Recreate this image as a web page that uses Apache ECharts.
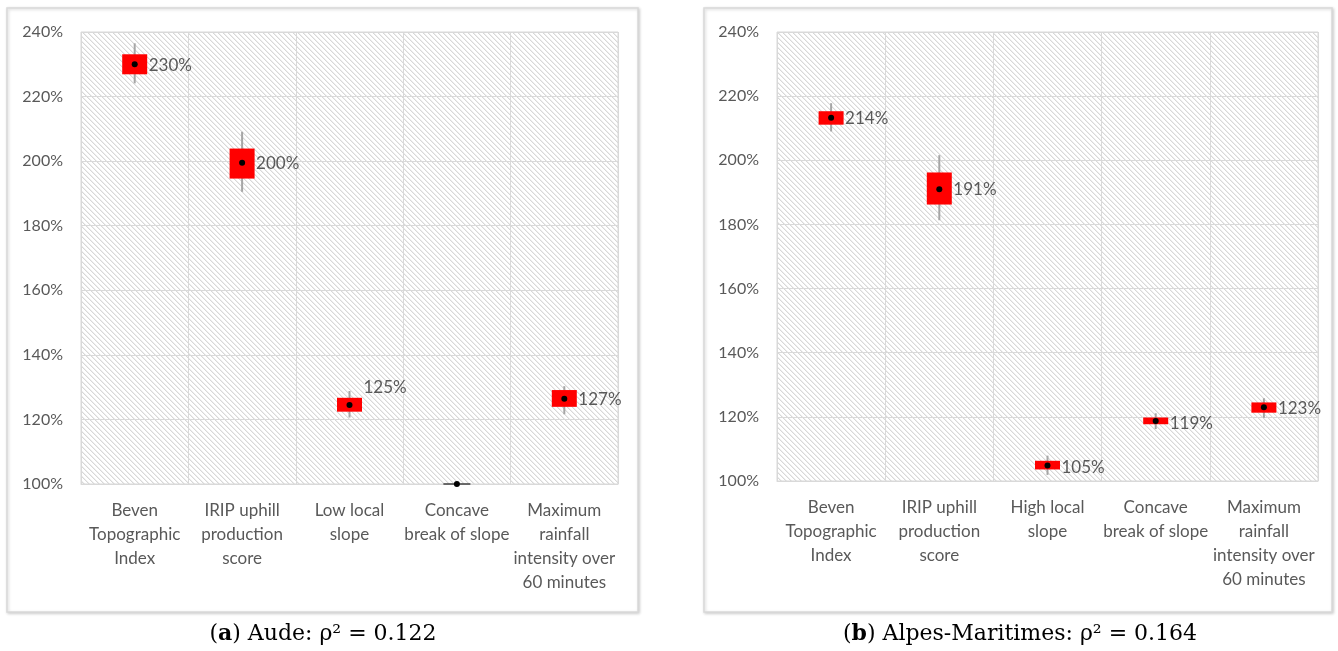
<!DOCTYPE html>
<html>
<head>
<meta charset="utf-8">
<script src="https://cdn.jsdelivr.net/npm/echarts@6/dist/echarts.min.js"></script>
<style>html,body{margin:0;padding:0;background:#fff}#c{width:1338px;height:651px}</style>
</head>
<body>
<div id="c"></div>
<script>
// ---- Data ----
const yTicks = [100, 120, 140, 160, 180, 200, 220, 240];

const categoriesA = ['Beven\nTopographic\nIndex', 'IRIP uphill\nproduction\nscore', 'Low local\nslope', 'Concave\nbreak of slope', 'Maximum\nrainfall\nintensity over\n60 minutes'];
const meanA      = [230.0, 199.5, 124.5, 100.0, 126.4];
const boxLowA    = [226.9, 194.6, 122.4, 100.0, 123.9];
const boxHighA   = [233.1, 203.9, 126.7, 100.0, 129.1];
const whiskLowA  = [224.1, 190.5, 120.6, 100.0, 121.6];
const whiskHighA = [236.5, 209.1, 128.8, 100.0, 130.3];
const labelsA    = ['230%', '200%', '125%', '', '127%'];

const categoriesB = ['Beven\nTopographic\nIndex', 'IRIP uphill\nproduction\nscore', 'High local\nslope', 'Concave\nbreak of slope', 'Maximum\nrainfall\nintensity over\n60 minutes'];
const meanB      = [213.3, 191.0, 104.8, 118.7, 123.0];
const boxLowB    = [211.1, 186.2, 103.6, 117.7, 121.3];
const boxHighB   = [215.3, 196.2, 106.3, 119.8, 124.5];
const whiskLowB  = [209.0, 181.3, 101.9, 116.2, 119.7];
const whiskHighB = [217.8, 201.6, 107.9, 121.1, 125.8];
const labelsB    = ['214%', '191%', '105%', '119%', '123%'];

// label vertical nudges (style only)
const labelDyA = [1, 1, -17, 0, 1];
const labelDyB = [1, 0, 2, 2, 1];

// ---- Hatch pattern ----
function makeHatch() {
  const n = 5;
  const cv = document.createElement('canvas');
  cv.width = n; cv.height = n;
  const ctx = cv.getContext('2d');
  const img = ctx.createImageData(n, n);
  for (let y = 0; y < n; y++) {
    for (let x = 0; x < n; x++) {
      const i = (y * n + x) * 4;
      const d = ((x - y) % n + n) % n;
      const v = d === 0 ? 216 : (d === 1 ? 238 : 255);
      img.data[i] = v; img.data[i + 1] = v; img.data[i + 2] = v; img.data[i + 3] = 255;
    }
  }
  ctx.putImageData(img, 0, 0);
  return { image: cv, repeat: 'repeat' };
}
const hatch = makeHatch();

function buildData(wl, bl, m, bh, wh) {
  return m.map((v, i) => [i, wl[i], bl[i], v, bh[i], wh[i]]);
}

const FONT = 'Lato, "Open Sans", sans-serif';
const TXT = '#595959';

function makeRender(labels, dys) {
  return function (params, api) {
    const i = api.value(0);
    const c = api.coord([i, api.value(3)]);
    const wl = api.coord([i, api.value(1)]);
    const wh = api.coord([i, api.value(5)]);
    const bl = api.coord([i, api.value(2)]);
    const bh = api.coord([i, api.value(4)]);
    const w = 25;
    const children = [];
    children.push({ type: 'line', shape: { x1: c[0], y1: wh[1], x2: c[0], y2: wl[1] }, style: { stroke: '#a6a6a6', lineWidth: 2 } });
    if (Math.abs(bl[1] - bh[1]) < 1) {
      children.push({ type: 'line', shape: { x1: c[0] - 13.5, y1: c[1], x2: c[0] + 13.5, y2: c[1] }, style: { stroke: '#404040', lineWidth: 1.5 } });
    } else {
      children.push({ type: 'rect', shape: { x: c[0] - w / 2, y: bh[1], width: w, height: bl[1] - bh[1] }, style: { fill: '#ff0000' } });
    }
    children.push({ type: 'circle', shape: { cx: c[0], cy: c[1], r: 3 }, style: { fill: '#000' } });
    if (labels[i]) {
      children.push({ type: 'text', style: { text: labels[i], x: c[0] + 14, y: c[1] + dys[i], fill: TXT, fontSize: 17, fontFamily: FONT, align: 'left', verticalAlign: 'middle' } });
    }
    return { type: 'group', children };
  };
}

function xAxis(gi, cats) {
  return {
    type: 'category', gridIndex: gi, data: cats, boundaryGap: true, z: 3,
    axisLine: { show: true, lineStyle: { color: '#d9d9d9', width: 1 } },
    axisTick: { show: false },
    splitLine: { show: true, interval: 0, lineStyle: { color: '#d9d9d9', width: 1 } },
    axisLabel: { color: TXT, fontSize: 17, fontFamily: FONT, lineHeight: 24, margin: 15, interval: 0, align: 'center' }
  };
}
function yAxis(gi) {
  return {
    type: 'value', gridIndex: gi, min: yTicks[0], max: yTicks[yTicks.length - 1], interval: yTicks[1] - yTicks[0], z: 3,
    axisLine: { show: false }, axisTick: { show: false },
    splitLine: { show: true, lineStyle: { color: '#d9d9d9', width: 1 } },
    axisLabel: { color: TXT, fontSize: 16, fontFamily: FONT, margin: 18, formatter: v => v + '%' }
  };
}

const chart = echarts.init(document.getElementById('c'), null, { renderer: 'canvas' });
const SERIF = '"DejaVu Serif", "Liberation Serif", serif';
const captionRich = {
  p: { fontFamily: SERIF, fontSize: 22, fill: '#000' },
  b: { fontFamily: SERIF, fontSize: 22, fontWeight: 'bold', fill: '#000' }
};
chart.setOption({
  backgroundColor: '#fff',
  animation: false,
  grid: [
    { left: 81, right: 720, top: 32, bottom: 167, show: true, backgroundColor: hatch, borderColor: '#d9d9d9', borderWidth: 1 },
    { left: 777, right: 20, top: 32, bottom: 170, show: true, backgroundColor: hatch, borderColor: '#d9d9d9', borderWidth: 1 }
  ],
  xAxis: [xAxis(0, categoriesA), xAxis(1, categoriesB)],
  yAxis: [yAxis(0), yAxis(1)],
  graphic: [
    { type: 'rect', z: -1, shape: { x: 7, y: 8, width: 631, height: 604 }, style: { fill: '#fff', stroke: '#d9d9d9', lineWidth: 1.5, shadowBlur: 3, shadowColor: 'rgba(0,0,0,0.18)', shadowOffsetY: 1, shadowOffsetX: 1 } },
    { type: 'rect', z: -1, shape: { x: 704, y: 8, width: 628, height: 604 }, style: { fill: '#fff', stroke: '#d9d9d9', lineWidth: 1.5, shadowBlur: 3, shadowColor: 'rgba(0,0,0,0.18)', shadowOffsetY: 1, shadowOffsetX: 1 } },
    { type: 'text', z: 10, x: 323, y: 634, style: { text: '{p|(}{b|a}{p|) Aude: ρ² = 0.122}', rich: captionRich, align: 'center', verticalAlign: 'middle' } },
    { type: 'text', z: 10, x: 1020, y: 634, style: { text: '{p|(}{b|b}{p|) Alpes-Maritimes: ρ² = 0.164}', rich: captionRich, align: 'center', verticalAlign: 'middle' } }
  ],
  series: [
    { type: 'custom', xAxisIndex: 0, yAxisIndex: 0, z: 5, renderItem: makeRender(labelsA, labelDyA), encode: { x: 0, y: [1, 5] }, data: buildData(whiskLowA, boxLowA, meanA, boxHighA, whiskHighA) },
    { type: 'custom', xAxisIndex: 1, yAxisIndex: 1, z: 5, renderItem: makeRender(labelsB, labelDyB), encode: { x: 0, y: [1, 5] }, data: buildData(whiskLowB, boxLowB, meanB, boxHighB, whiskHighB) }
  ]
});
</script>
</body>
</html>
